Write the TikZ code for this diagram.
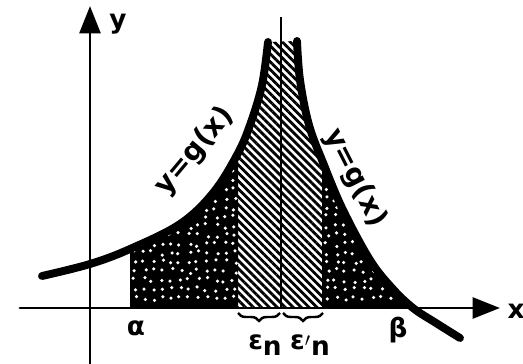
\documentclass[tikz,border=0pt]{standalone}
\usepackage{fontspec}
\setmainfont{DejaVu Sans}
\usetikzlibrary{arrows.meta,decorations.pathreplacing,patterns.meta}
\tikzset{
  axis/.style={line width=1.7pt,line cap=round,-{Triangle[length=0.55cm,width=0.42cm]}},
  curve/.style={line width=4.5pt,line cap=round},
  midline/.style={line width=1.4pt},
  brace/.style={decorate,decoration={brace,mirror,amplitude=0.16cm},line width=1.4pt},
  lab/.style={font=\fontsize{15}{18}\selectfont\bfseries,inner sep=0pt},
  curvelab/.style={font=\fontsize{16}{19}\selectfont\bfseries,inner sep=0pt},
  hatch/.style={pattern={Lines[angle=-45,distance=3.2pt,line width=1.6pt]}},
  dot/.style={fill=white}
}
\newcommand\leftbranch{plot[smooth,tension=0.6] coordinates {(42,276) (90,264) (130,249) (180,224) (213,193) (237,155) (250,125) (262,85) (268,42)}}
\newcommand\rightbranch{plot[smooth,tension=0.6] coordinates {(297,41) (300,80) (309,125) (324,165) (343,210) (370,260) (392,288) (413,308) (436,323) (460,338)}}
\newcommand\underarea{plot[smooth,tension=0.6] coordinates {(42,276) (90,264) (130,249) (180,224) (213,193) (237,155) (250,125) (262,85) (268,42)}
  -- plot[smooth,tension=0.6] coordinates {(297,41) (300,80) (309,125) (324,165) (343,210) (370,260) (392,288) (413,308) (436,323) (460,338)}
  -- (460,345) -- (42,345) -- cycle}
\begin{document}
\begin{tikzpicture}[x=0.02cm,y=-0.02cm]
  \useasboundingbox (0,0) rectangle (523,364);
  \pgfmathsetseed{11}
  % stippled parts
  \begin{scope}
    \clip (130,0) rectangle (238,308);
    \fill \underarea;
    \foreach \gx in {135,144,...,235}
      \foreach \gy in {172,181,...,304}
        \fill[dot] ({\gx+5*rnd-2.5},{\gy+5*rnd-2.5}) circle (1pt);
  \end{scope}
  \begin{scope}
    \clip (322,0) rectangle (420,308);
    \fill \underarea;
    \foreach \gx in {327,336,...,417}
      \foreach \gy in {190,199,...,304}
        \fill[dot] ({\gx+5*rnd-2.5},{\gy+5*rnd-2.5}) circle (1pt);
  \end{scope}
  % hatched strip
  \begin{scope}
    \clip (238,0) rectangle (322,308);
    \fill[hatch] \underarea;
  \end{scope}

  \coordinate (xs) at (20,308);
  \coordinate (xe) at (500,308);
  \coordinate (ys) at (90,364);
  \coordinate (ye) at (90,6);
  \coordinate (top) at (281,17);
  \coordinate (foot) at (281,308);
  \draw[axis] (xs) -- (xe);
  \draw[axis] (ys) -- (ye);
  \draw[midline] (top) -- (foot);
  \draw[curve] \leftbranch;
  \draw[curve] \rightbranch;

  \coordinate (e0) at (238,313);
  \coordinate (e1) at (280,313);
  \coordinate (e2) at (283,313);
  \coordinate (e3) at (323,313);
  \draw[brace] (e0) -- (e1);
  \draw[brace] (e2) -- (e3);

  \node[lab] (ylab) at (118,24) {y};
  \node[lab] (xlab) at (516,311) {x};
  \node[lab] (alab) at (136,328) {α};
  \node[lab] (blab) at (398,330) {β};
  \node[lab] (epsl) at (265,345) {ε\raisebox{-0.45ex}{n}};
  \node[lab] (epsr) at (310,345) {ε\raisebox{-0.45ex}{$'$}\raisebox{-0.45ex}{n}};
  \node[curvelab,rotate=50] (gleft) at (195,151) {y=g(x)};
  \node[curvelab,rotate=-63] (gright) at (355,178) {y=g(x)};
\end{tikzpicture}
\end{document}
